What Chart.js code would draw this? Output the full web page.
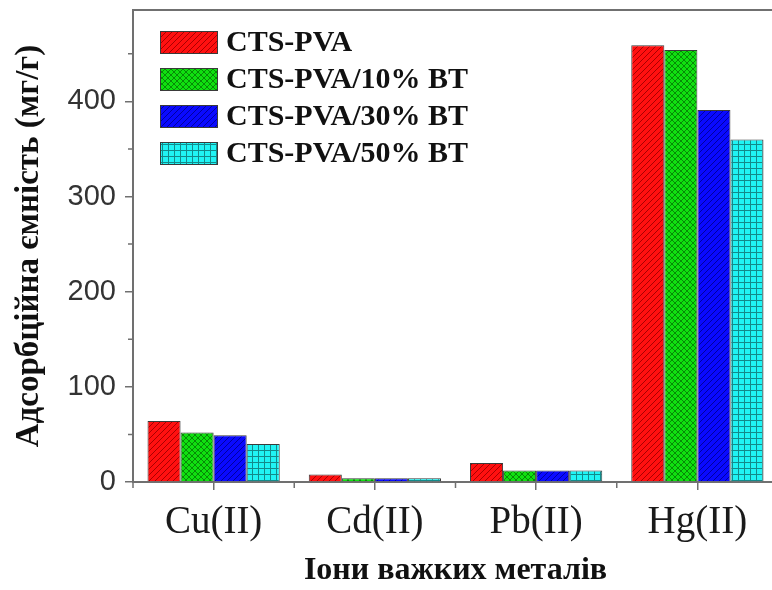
<!DOCTYPE html>
<html>
<head>
<meta charset="utf-8">
<script src="https://cdn.jsdelivr.net/npm/chart.js@4.4.1/dist/chart.umd.min.js"></script>
<style>
  body { margin: 0; overflow: hidden; background: #fff; }
  canvas { display: block; }
</style>
</head>
<body>
<canvas id="c" width="780" height="590"></canvas>
<script>
// data
const categories = ['Cu(II)', 'Cd(II)', 'Pb(II)', 'Hg(II)']
const seriesNames = ['CTS-PVA', 'CTS-PVA/10% BT', 'CTS-PVA/30% BT', 'CTS-PVA/50% BT']
const ctsPva = [64, 8, 20, 459]
const bt10 = [52, 4, 12, 454]
const bt30 = [49, 4, 12, 391]
const bt50 = [40, 4, 12, 360]
const yTicks = [0, 100, 200, 300, 400]
const yMinor = [50, 150, 250, 350, 450]

const serif = "'Liberation Serif', 'Times New Roman', serif"
const axisColor = '#707070'

function makePattern(base, line, kind) {
    let p = document.createElement('canvas')
    let n = 6
    p.width = n; p.height = n
    let g = p.getContext('2d')
    g.fillStyle = base
    g.fillRect(0, 0, n, n)
    g.strokeStyle = line
    g.lineWidth = 1
    if (kind == 'diag' || kind == 'cross') {
        g.beginPath()
        g.moveTo(-1, n + 1); g.lineTo(n + 1, -1)
        g.moveTo(-1, 1); g.lineTo(1, -1)
        g.moveTo(n - 1, n + 1); g.lineTo(n + 1, n - 1)
        g.stroke()
    }
    if (kind == 'cross') {
        g.beginPath()
        g.moveTo(-1, -1); g.lineTo(n + 1, n + 1)
        g.moveTo(n - 1, -1); g.lineTo(n + 1, 1)
        g.moveTo(-1, n - 1); g.lineTo(1, n + 1)
        g.stroke()
    }
    if (kind == 'grid') {
        g.fillStyle = line
        g.fillRect(0, 0, n, 1)
        g.fillRect(0, 0, 1, n)
    }
    return g.createPattern(p, 'repeat')
}

let fills = [
    makePattern('#ff1010', '#a80000', 'diag'),
    makePattern('#10e010', '#078a07', 'cross'),
    makePattern('#0a0aff', '#0000a0', 'diag'),
    makePattern('#20f4f4', '#138a8a', 'grid')
]
let values = [ctsPva, bt10, bt30, bt50]

const extras = {
    id: 'extras',
    afterDraw(chart) {
        let ctx = chart.ctx
        let a = chart.chartArea
        let x = chart.scales.x, y = chart.scales.y
        ctx.save()
        ctx.strokeStyle = axisColor
        ctx.lineWidth = 2
        ctx.beginPath()
        ctx.moveTo(a.left - 1, a.top)
        ctx.lineTo(a.right + 2, a.top)
        ctx.stroke()
        ctx.lineWidth = 1.5
        ctx.beginPath()
        yMinor.forEach(v => {
            let py = y.getPixelForValue(v)
            ctx.moveTo(a.left - 5, py); ctx.lineTo(a.left, py)
        })
        for (let i = 0; i <= categories.length; i++) {
            let px = x.getPixelForValue(i - 0.5)
            ctx.moveTo(px, a.bottom); ctx.lineTo(px, a.bottom + 6)
        }
        ctx.stroke()

        // legend inside the plot
        chart.data.datasets.forEach((ds, i) => {
            let cy = a.top + 32 + i * 37
            ctx.fillStyle = ds.backgroundColor
            ctx.fillRect(a.left + 27, cy - 11, 58, 23)
            ctx.strokeStyle = '#3a3a3a'
            ctx.lineWidth = 1
            ctx.strokeRect(a.left + 27.5, cy - 10.5, 57, 22)
            ctx.fillStyle = '#111'
            ctx.font = 'bold 30px ' + serif
            ctx.textBaseline = 'middle'
            ctx.fillText(ds.label, a.left + 93, cy + 1)
        })
        ctx.restore()
    }
}

new Chart('c', {
    type: 'bar',
    data: {
        labels: categories,
        datasets: seriesNames.map((name, i) => ({
            label: name,
            data: values[i],
            backgroundColor: fills[i],
            borderColor: '#3a3a3a',
            borderWidth: 1,
            categoryPercentage: 0.82,
            barPercentage: 1
        }))
    },
    options: {
        responsive: false,
        animation: false,
        devicePixelRatio: 1,
        layout: { padding: { top: 10, right: 2, left: 0, bottom: 0 } },
        plugins: { legend: { display: false }, tooltip: { enabled: false } },
        scales: {
            x: {
                afterFit: s => { s.height = 108; s.paddingLeft = 0; s.paddingRight = 0 },
                grid: { offset: false, drawOnChartArea: false, drawTicks: true, tickLength: 8, tickColor: axisColor, lineWidth: 1.5 },
                border: { color: axisColor, width: 2 },
                ticks: { color: '#1a1a1a', font: { family: serif, size: 39 }, padding: 9, maxRotation: 0 },
                title: {
                    display: true, text: 'Іони важких металів', color: '#111',
                    font: { family: serif, size: 32, weight: 'bold' }, padding: { top: 0, bottom: 0 }
                }
            },
            y: {
                min: 0,
                max: 496,
                afterFit: s => { s.width = 133; s.paddingTop = 0; s.paddingBottom = 0 },
                afterBuildTicks: s => { s.ticks = yTicks.map(v => ({ value: v })) },
                grid: { drawOnChartArea: false, drawTicks: true, tickLength: 8, tickColor: axisColor, lineWidth: 1.5 },
                border: { color: axisColor, width: 2 },
                ticks: { color: '#333', font: { family: "'Liberation Sans', Arial, sans-serif", size: 29 }, padding: 9 },
                title: {
                    display: true, text: 'Адсорбційна ємність (мг/г)', color: '#111',
                    font: { family: serif, size: 33, weight: 'bold' }, padding: { top: 10, bottom: 0 }
                }
            }
        }
    },
    plugins: [extras]
})
</script>
</body>
</html>
